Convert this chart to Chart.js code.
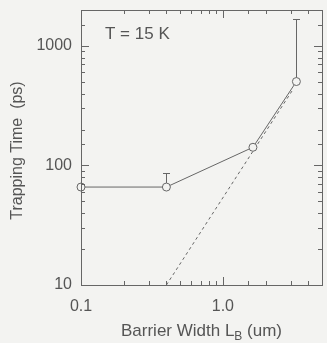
<!DOCTYPE html>
<html>
<head>
<meta charset="utf-8">
<script src="https://cdn.jsdelivr.net/npm/chart.js@4"></script>
<style>
  html, body { margin: 0; padding: 0; background: #f3f3f1; }
</style>
</head>
<body>
<canvas id="myChart" width="327" height="343"></canvas>
<script>
// measured points (barrier width in um, trapping time in ps)
var barrierWidth = [0.1, 0.4, 1.63, 3.3];
var trappingTime = [66, 66, 142, 504];
var errorTop = [null, 87, null, 1670];
// dashed guide line
var fitWidth = [0.4, 3.15];
var fitTime = [10, 440];
// labelled ticks
var xTickLabels = [0.1, 1];
var yTickLabels = [10, 100, 1000];

var ink = '#666';
var bg = '#f3f3f1';
var font = "'Liberation Sans', Arial, sans-serif";

function isLabelled(list, v) {
  return list.some(function (t) { return Math.abs(Math.log10(t) - Math.log10(v)) < 1e-6; });
}

function noPadding(s) {
  s.paddingTop = 0; s.paddingBottom = 0; s.paddingLeft = 0; s.paddingRight = 0;
}

var decorations = {
  id: 'decorations',
  afterDatasetsDraw: function (chart) {
    var c = chart.ctx, a = chart.chartArea;
    var xs = chart.scales.x, ys = chart.scales.y;
    c.save();
    c.strokeStyle = ink;
    c.lineWidth = 1;

    // error bars (upper only)
    barrierWidth.forEach(function (w, i) {
      if (errorTop[i] == null) return;
      var px = Math.round(xs.getPixelForValue(w)) + 0.5;
      var y0 = ys.getPixelForValue(trappingTime[i]) - 4;
      var y1 = Math.round(ys.getPixelForValue(errorTop[i])) + 0.5;
      c.beginPath();
      c.moveTo(px, y0); c.lineTo(px, y1);
      c.moveTo(px - 3.5, y1); c.lineTo(px + 3.5, y1);
      c.stroke();
    });

    // frame
    c.strokeRect(Math.round(a.left) + 0.5, Math.round(a.top) + 0.5,
      Math.round(a.right - a.left), Math.round(a.bottom - a.top));

    // inward ticks on all four sides
    c.beginPath();
    xs.ticks.forEach(function (t) {
      var px = Math.round(xs.getPixelForValue(t.value)) + 0.5;
      var len = isLabelled([0.1, 1, 10], t.value) ? 8 : 4;
      c.moveTo(px, a.bottom); c.lineTo(px, a.bottom - len);
      c.moveTo(px, a.top); c.lineTo(px, a.top + len);
    });
    ys.ticks.forEach(function (t) {
      var py = Math.round(ys.getPixelForValue(t.value)) + 0.5;
      var len = isLabelled(yTickLabels, t.value) ? 8 : 4;
      c.moveTo(a.left, py); c.lineTo(a.left + len, py);
      c.moveTo(a.right, py); c.lineTo(a.right - len, py);
    });
    c.stroke();

    // annotation
    c.fillStyle = '#555';
    c.font = '17px ' + font;
    c.textBaseline = 'middle';
    c.textAlign = 'left';
    c.fillText('T = 15 K', 105, 34);

    // x axis title with subscript
    c.font = '17px ' + font;
    var p1 = 'Barrier Width L', p2 = 'B', p3 = ' (um)';
    var w1 = c.measureText(p1).width, w3 = c.measureText(p3).width;
    c.font = '12px ' + font;
    var w2 = c.measureText(p2).width;
    var cx = (a.left + a.right) / 2;
    var x0 = cx - (w1 + w2 + w3) / 2;
    var ty = 331;
    c.font = '17px ' + font;
    c.fillText(p1, x0, ty);
    c.font = '12px ' + font;
    c.fillText(p2, x0 + w1, ty + 6);
    c.font = '17px ' + font;
    c.fillText(p3, x0 + w1 + w2, ty);

    // y axis title
    c.font = '16px ' + font;
    c.translate(18, (a.top + a.bottom) / 2 + 3);
    c.rotate(-Math.PI / 2);
    c.textAlign = 'center';
    c.fillText('Trapping Time  (ps)', 0, 0);
    c.restore();
  }
};

var ctx = document.getElementById('myChart').getContext('2d');
var myChart = new Chart(ctx, {
  type: 'scatter',
  data: {
    datasets: [{
      data: barrierWidth.map(function (w, i) { return {x: w, y: trappingTime[i]}; }),
      showLine: true,
      borderColor: ink,
      borderWidth: 1,
      pointRadius: 4,
      pointBorderWidth: 1,
      pointBorderColor: ink,
      pointBackgroundColor: bg,
      clip: false
    }, {
      data: fitWidth.map(function (w, i) { return {x: w, y: fitTime[i]}; }),
      showLine: true,
      borderColor: ink,
      borderWidth: 1,
      borderDash: [3, 3],
      pointRadius: 0,
      clip: false
    }]
  },
  options: {
    responsive: false,
    animation: false,
    layout: { padding: { top: 10, right: 2, left: 0, bottom: 0 } },
    plugins: { legend: { display: false }, tooltip: { enabled: false } },
    scales: {
      x: {
        type: 'logarithmic',
        min: 0.1,
        max: 5,
        grid: { display: false, drawTicks: false },
        border: { display: false },
        afterFit: function (s) { s.height = 58; noPadding(s); },
        ticks: {
          autoSkip: false,
          maxRotation: 0,
          padding: 12,
          color: '#555',
          font: { family: font, size: 16 },
          callback: function (v) {
            if (!isLabelled(xTickLabels, v)) return '';
            return v < 1 ? '0.1' : '1.0';
          }
        }
      },
      y: {
        type: 'logarithmic',
        min: 10,
        max: 2000,
        grid: { display: false, drawTicks: false },
        border: { display: false },
        afterFit: function (s) { s.width = 81; noPadding(s); },
        ticks: {
          autoSkip: false,
          padding: 9,
          color: '#555',
          font: { family: font, size: 16 },
          callback: function (v) {
            return isLabelled(yTickLabels, v) ? String(Math.round(v)) : '';
          }
        }
      }
    }
  },
  plugins: [decorations]
});
</script>
</body>
</html>
